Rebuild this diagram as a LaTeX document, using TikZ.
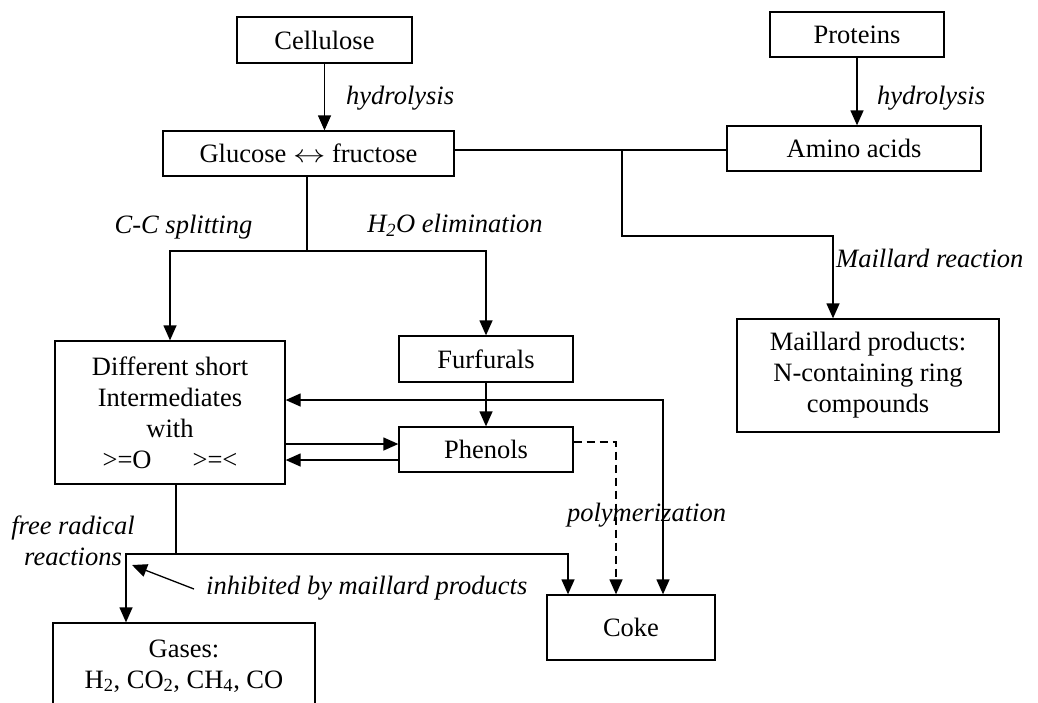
\documentclass[tikz,border=0pt]{standalone}
\usepackage{fontspec}
\setmainfont{Liberation Serif}
\usetikzlibrary{arrows.meta}
\begin{document}
\begin{tikzpicture}[x=1pt,y=-1pt,
  every node/.style={font=\fontsize{26.5}{31}\selectfont},
  box/.style={draw,line width=1.3pt,inner sep=0pt,align=center},
  conn/.style={line width=1.3pt},
  arr/.style={conn,-{Triangle[length=15pt,width=13pt]}},
  darr/.style={conn,{Triangle[length=15pt,width=13pt]}-{Triangle[length=15pt,width=13pt]}},
  lbl/.style={font=\fontsize{26.5}{31}\selectfont\itshape,inner sep=0pt,align=center}]
\useasboundingbox (0,0) rectangle (1038,702);

% boxes
\node[box,minimum width=175pt,minimum height=46pt] (cell) at (324.5,40) {Cellulose};
\node[box,minimum width=174pt,minimum height=45pt] (prot) at (857,34.5) {Proteins};
\node[box,minimum width=291pt,minimum height=45pt] (gluc) at (308.5,153.5)
  {Glucose \scalebox{1.3}[1]{$\leftrightarrow$} fructose};
\node[box,minimum width=254pt,minimum height=45pt] (amino) at (854,148.5) {Amino acids};
\node[box,minimum width=230pt,minimum height=143pt] (diff) at (170,412.5)
  {Different short\\Intermediates\\with\\>=O\hspace{41pt}>=<};
\node[box,minimum width=174pt,minimum height=46pt] (furf) at (486,359) {Furfurals};
\node[box,minimum width=174pt,minimum height=45pt] (phen) at (486,449.5) {Phenols};
\node[box,minimum width=262pt,minimum height=113pt] (mail) at (868,375.5)
  {Maillard products:\\N-containing ring\\compounds};
\node[box,minimum width=168pt,minimum height=65pt] (coke) at (631,627.5) {Coke};
\node[box,minimum width=262pt,minimum height=86pt] (gases) at (184,666)
  {Gases:\\H\textsubscript{2}, CO\textsubscript{2}, CH\textsubscript{4}, CO};

% labels
\node[lbl,anchor=west] (h1) at (346,98) {hydrolysis};
\node[lbl,anchor=west] (h2) at (877,98) {hydrolysis};
\node[lbl] (ccs) at (183.5,227) {C-C splitting};
\node[lbl] (hoe) at (455,225) {H\textsubscript{2}O elimination};
\node[lbl,anchor=west] (mr) at (836,258) {Maillard reaction};
\node[lbl] (poly) at (646.5,515) {polymerization};
\node[lbl] (frr) at (73,541) {free radical\\reactions};
\node[lbl,anchor=west] (inh) at (206,588) {inhibited by maillard products};

% coordinates
\coordinate (J) at (622,150);
\coordinate (M) at (833,236);
\coordinate (S) at (307,251);
\coordinate (K) at (663,400);
\coordinate (D) at (616,442);
\coordinate (R) at (176,554);
\coordinate (G) at (126,554);
\coordinate (C) at (568,554);
\coordinate (T) at (132,565);

% connectors
\draw[arr] (cell.south) -- (gluc.north -| cell.south);
\draw[arr] (prot.south) -- (amino.north -| prot.south);
\draw[conn] (gluc.east |- J) -- (amino.west |- J);
\draw[arr] (J) |- (M) -- (M |- mail.north);
\draw[conn] (gluc.south -| S) -- (S);
\draw[arr] (S) -| (diff.north);
\draw[arr] (S) -| (furf.north);
\draw[arr] (furf.south) -- (phen.north);
\draw[darr] (diff.east |- K) -- (K) -- (K |- coke.north);
\draw[arr] (diff.east |- 0,444) -- (phen.west |- 0,444);
\draw[arr] (phen.west |- 0,460) -- (diff.east |- 0,460);
\draw[arr,dash pattern=on 8pt off 5pt] (phen.east |- D) -- (D) -- (D |- coke.north);
\draw[conn] (diff.south -| R) -- (R);
\draw[arr] (R) -- (G) -- (G |- gases.north);
\draw[arr] (R) -- (C) -- (C |- coke.north);
\draw[arr] ([xshift=-12pt,yshift=-1pt]inh.west) -- (T);
\end{tikzpicture}
\end{document}
